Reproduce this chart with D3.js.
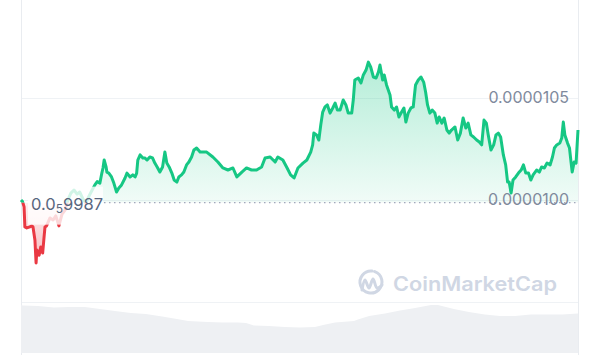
<!DOCTYPE html>
<html>
<head>
<script src="https://cdn.jsdelivr.net/npm/d3@7"></script>
<style>
  body { margin: 0; background: #fff; }
  text { font-family: Inter, "Noto Sans", sans-serif; }
</style>
</head>
<body>
<script>
var width = 600, height = 355;

// opening price of the period (dotted reference line)
var openPrice = 0.000009987;
var gridTicks = [0.0000095, 0.0000100, 0.0000105];
var tickLabels = [0.0000100, 0.0000105];

// [minutes since start, price in USD]
var prices = [
  [0, 0.000010000], [4, 0.000009992], [8, 0.000009966], [10, 0.000009868], [15, 0.000009863],
  [23, 0.000009868], [28, 0.000009873], [31, 0.000009868], [36, 0.000009804], [39, 0.000009691],
  [41, 0.000009755], [47, 0.000009730], [51, 0.000009770], [56, 0.000009740], [59, 0.000009804],
  [62, 0.000009868], [66, 0.000009873], [75, 0.000009912], [83, 0.000009902], [90, 0.000009922],
  [98, 0.000009873], [106, 0.000009931], [114, 0.000009951], [121, 0.000010000], [129, 0.000010034],
  [137, 0.000010049], [145, 0.000010029], [152, 0.000010039], [160, 0.000010005], [168, 0.000009985],
  [176, 0.000010020], [184, 0.000010049], [191, 0.000010074], [197, 0.000010090], [204, 0.000010083],
  [209, 0.000010132], [212, 0.000010157], [215, 0.000010196], [220, 0.000010162], [222, 0.000010137],
  [227, 0.000010132], [234, 0.000010113], [240, 0.000010083], [247, 0.000010039], [253, 0.000010059],
  [260, 0.000010074], [269, 0.000010108], [274, 0.000010132], [282, 0.000010113], [289, 0.000010123],
  [295, 0.000010113], [299, 0.000010132], [302, 0.000010196], [308, 0.000010221], [315, 0.000010206],
  [320, 0.000010206], [326, 0.000010196], [333, 0.000010211], [340, 0.000010206], [346, 0.000010181],
  [352, 0.000010162], [359, 0.000010137], [366, 0.000010162], [372, 0.000010235], [377, 0.000010181],
  [383, 0.000010162], [390, 0.000010132], [396, 0.000010098], [403, 0.000010088], [408, 0.000010113],
  [415, 0.000010123], [421, 0.000010137], [428, 0.000010172], [434, 0.000010186], [441, 0.000010211],
  [447, 0.000010245], [454, 0.000010255], [463, 0.000010235], [471, 0.000010235], [480, 0.000010235],
  [496, 0.000010211], [509, 0.000010186], [522, 0.000010157], [535, 0.000010147], [548, 0.000010157],
  [558, 0.000010113], [571, 0.000010137], [583, 0.000010157], [596, 0.000010147], [609, 0.000010147],
  [622, 0.000010162], [631, 0.000010206], [644, 0.000010211], [657, 0.000010186], [664, 0.000010211],
  [677, 0.000010196], [688, 0.000010157], [697, 0.000010123], [706, 0.000010108], [716, 0.000010157],
  [729, 0.000010181], [739, 0.000010196], [749, 0.000010235], [754, 0.000010270], [757, 0.000010328],
  [764, 0.000010319], [770, 0.000010294], [775, 0.000010368], [780, 0.000010431], [786, 0.000010456],
  [792, 0.000010466], [799, 0.000010426], [806, 0.000010451], [812, 0.000010475], [818, 0.000010441],
  [825, 0.000010441], [833, 0.000010490], [840, 0.000010466], [846, 0.000010426], [855, 0.000010426],
  [859, 0.000010490], [863, 0.000010588], [872, 0.000010598], [879, 0.000010574], [885, 0.000010613],
  [892, 0.000010637], [898, 0.000010676], [904, 0.000010652], [911, 0.000010603], [918, 0.000010598],
  [924, 0.000010627], [928, 0.000010662], [935, 0.000010588], [939, 0.000010613], [945, 0.000010564],
  [954, 0.000010515], [958, 0.000010456], [965, 0.000010441], [971, 0.000010456], [977, 0.000010407],
  [984, 0.000010431], [990, 0.000010451], [995, 0.000010382], [1001, 0.000010426], [1008, 0.000010451],
  [1014, 0.000010456], [1020, 0.000010564], [1027, 0.000010588], [1034, 0.000010603], [1041, 0.000010578],
  [1046, 0.000010529], [1051, 0.000010466], [1057, 0.000010426], [1063, 0.000010441], [1070, 0.000010426],
  [1076, 0.000010377], [1081, 0.000010407], [1088, 0.000010377], [1094, 0.000010402], [1101, 0.000010343],
  [1107, 0.000010328], [1113, 0.000010343], [1122, 0.000010358], [1129, 0.000010294], [1136, 0.000010328],
  [1143, 0.000010402], [1150, 0.000010353], [1156, 0.000010377], [1163, 0.000010319], [1170, 0.000010309],
  [1178, 0.000010294], [1185, 0.000010284], [1191, 0.000010270], [1197, 0.000010392], [1203, 0.000010377],
  [1208, 0.000010319], [1215, 0.000010245], [1222, 0.000010270], [1228, 0.000010319], [1234, 0.000010328],
  [1240, 0.000010309], [1247, 0.000010221], [1253, 0.000010172], [1258, 0.000010088], [1262, 0.000010088],
  [1267, 0.000010034], [1272, 0.000010098], [1279, 0.000010113], [1286, 0.000010132], [1293, 0.000010147],
  [1299, 0.000010172], [1305, 0.000010132], [1312, 0.000010132], [1318, 0.000010098], [1324, 0.000010123],
  [1333, 0.000010147], [1340, 0.000010137], [1346, 0.000010162], [1353, 0.000010157], [1360, 0.000010181],
  [1368, 0.000010172], [1374, 0.000010211], [1379, 0.000010255], [1385, 0.000010270], [1393, 0.000010279],
  [1398, 0.000010304], [1402, 0.000010382], [1406, 0.000010319], [1413, 0.000010279], [1418, 0.000010255],
  [1422, 0.000010186], [1425, 0.000010137], [1430, 0.000010186], [1435, 0.000010181], [1440, 0.000010343]
];

// [minutes since start, volume in USD]
var volumes = [
  [0, 48000], [5, 47500], [44, 47000], [85, 45500], [124, 46000], [165, 46000], [204, 44000],
  [243, 42000], [284, 40000], [323, 39000], [365, 36500], [403, 34000], [432, 32000], [483, 31000],
  [522, 30500], [561, 30500], [582, 30000], [602, 27500], [641, 27000], [682, 26000], [721, 25500],
  [760, 26000], [781, 28000], [812, 30500], [861, 32000], [871, 33500], [900, 37000], [941, 39500],
  [980, 42500], [1019, 45000], [1060, 48000], [1078, 48000], [1119, 44000], [1158, 41000],
  [1199, 38500], [1238, 37000], [1277, 37000], [1318, 38500], [1357, 38500], [1399, 38500], [1440, 39500]
];

var green = "#16c784", red = "#ea3943", grid = "#eff2f5";

var svg = d3.select("body").append("svg")
    .attr("width", width)
    .attr("height", height);

var x = d3.scaleLinear().domain([0, 1440]).range([21, 578]);
var y = d3.scaleLinear().domain([0.0000095, 0.0000105]).range([302, 98]);
var yv = d3.scaleLinear().domain([0, 50000]).range([353, 303]);
var base = y(openPrice);

var defs = svg.append("defs");
var gUp = defs.append("linearGradient").attr("id", "gUp")
    .attr("gradientUnits", "userSpaceOnUse")
    .attr("x1", 0).attr("x2", 0).attr("y1", y(d3.max(prices, d => d[1]))).attr("y2", base);
gUp.append("stop").attr("offset", 0).attr("stop-color", green).attr("stop-opacity", 0.32);
gUp.append("stop").attr("offset", 1).attr("stop-color", green).attr("stop-opacity", 0.06);
var gDown = defs.append("linearGradient").attr("id", "gDown")
    .attr("gradientUnits", "userSpaceOnUse")
    .attr("x1", 0).attr("x2", 0).attr("y1", base).attr("y2", y(d3.min(prices, d => d[1])));
gDown.append("stop").attr("offset", 0).attr("stop-color", red).attr("stop-opacity", 0.08);
gDown.append("stop").attr("offset", 1).attr("stop-color", red).attr("stop-opacity", 0.35);

defs.append("clipPath").attr("id", "above")
  .append("rect").attr("x", 0).attr("y", 0).attr("width", width).attr("height", base);
defs.append("clipPath").attr("id", "below")
  .append("rect").attr("x", 0).attr("y", base).attr("width", width).attr("height", height - base);

// grid
svg.selectAll(".hgrid").data(gridTicks).enter().append("line")
    .attr("x1", 21).attr("x2", 578)
    .attr("y1", d => Math.round(y(d)) + 0.5).attr("y2", d => Math.round(y(d)) + 0.5)
    .attr("stroke", grid);
svg.selectAll(".vgrid").data(x.range()).enter().append("line")
    .attr("x1", d => d + 0.5).attr("x2", d => d + 0.5)
    .attr("y1", 0).attr("y2", height)
    .attr("stroke", "#e9ecf0");

// volume
svg.append("path")
    .datum(volumes)
    .attr("fill", "#eef0f3")
    .attr("d", d3.area().x(d => x(d[0])).y0(yv(0)).y1(d => yv(d[1])));

// price areas
var area = d3.area().x(d => x(d[0])).y0(base).y1(d => y(d[1]));
svg.append("path").datum(prices).attr("clip-path", "url(#above)")
    .attr("fill", "url(#gUp)").attr("d", area);
svg.append("path").datum(prices).attr("clip-path", "url(#below)")
    .attr("fill", "url(#gDown)").attr("d", area);

var line = d3.line().x(d => x(d[0])).y(d => y(d[1]));
svg.append("path").datum(prices).attr("clip-path", "url(#above)")
    .attr("fill", "none").attr("stroke", green).attr("stroke-width", 3)
    .attr("stroke-linejoin", "round").attr("d", line);
svg.append("path").datum(prices).attr("clip-path", "url(#below)")
    .attr("fill", "none").attr("stroke", red).attr("stroke-width", 3)
    .attr("stroke-linejoin", "round").attr("d", line);

// open price line + label
svg.append("line")
    .attr("x1", 104).attr("x2", 578).attr("y1", base).attr("y2", base)
    .attr("stroke", "#a1a7bb").attr("stroke-width", 1.2)
    .attr("stroke-dasharray", "1.5,3.5");
svg.append("rect")
    .attr("x", 28).attr("y", base - 16).attr("width", 75).attr("height", 38)
    .attr("fill", "#fff").attr("opacity", 0.8);
var lab = svg.append("text")
    .attr("x", 31).attr("y", base + 7)
    .attr("fill", "#58667e").attr("font-size", 16.5);
lab.append("tspan").text("0.0");
lab.append("tspan").attr("font-size", 12).attr("dy", 3).text("5");
lab.append("tspan").attr("dy", -3).text("9987");

// right-hand price labels
svg.selectAll(".ylab").data(tickLabels).enter().append("text")
    .attr("x", 569).attr("y", d => y(d) - 1)
    .attr("text-anchor", "end")
    .attr("dominant-baseline", "central")
    .attr("fill", "#808a9d").attr("font-size", 16)
    .text(d => d3.format(".7f")(d));

// watermark
var wm = svg.append("g").attr("fill", "none").attr("stroke", "#d0d7e4").attr("stroke-width", 3)
    .attr("stroke-linecap", "round").attr("stroke-linejoin", "round");
wm.append("path").attr("d", d3.arc()({innerRadius: 11, outerRadius: 11, startAngle: 0.35, endAngle: 2 * Math.PI + 0.1}))
    .attr("transform", "translate(371,282)");
wm.append("path")
    .attr("d", d3.line().curve(d3.curveCatmullRom)([[362, 290], [365, 280], [369, 288], [373, 279], [377, 288], [382, 285]]));
svg.append("text")
    .attr("x", 393).attr("y", 291)
    .attr("fill", "#d0d7e4").attr("font-size", 20).attr("font-weight", 600)
    .attr("textLength", 164).attr("lengthAdjust", "spacingAndGlyphs")
    .text("CoinMarketCap");
</script>
</body>
</html>
